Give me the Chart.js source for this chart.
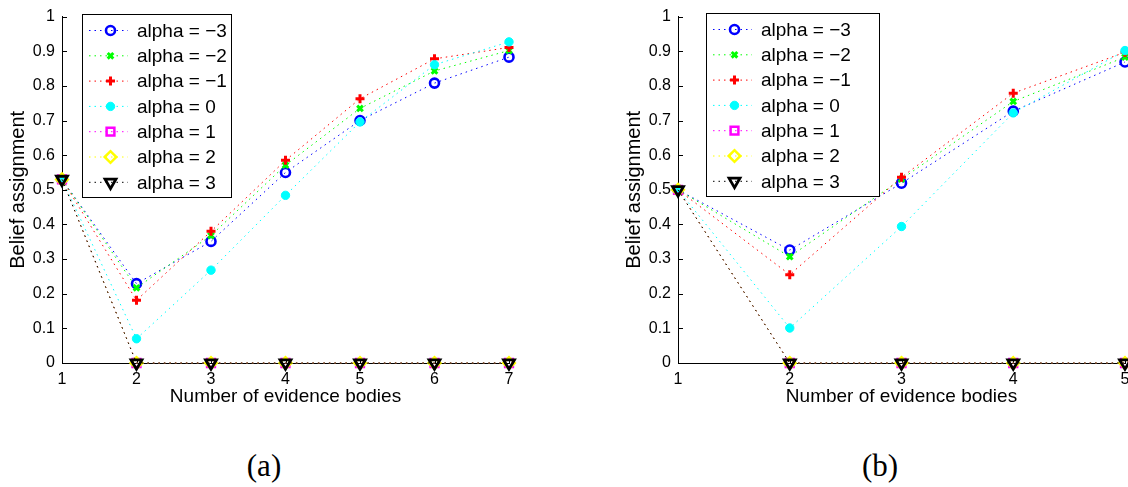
<!DOCTYPE html>
<html>
<head>
<meta charset="utf-8">
<script src="https://cdn.jsdelivr.net/npm/chart.js@4.4.1/dist/chart.umd.min.js"></script>
<style>
  html, body { margin: 0; padding: 0; background: #fff; overflow: hidden; width: 1128px; height: 487px; }
  .wrap { position: absolute; top: 0; width: 560px; height: 420px; }
  .cap { position: absolute; top: 450px; width: 100px; text-align: center; font-family: "Liberation Serif", serif; font-size: 31px; line-height: 31px; color: #000; }
</style>
</head>
<body>
<div class="wrap" style="left:0"><canvas id="chartA" width="560" height="420"></canvas></div>
<div class="wrap" style="left:616px"><canvas id="chartB" width="560" height="420"></canvas></div>
<div class="cap" style="left:214px">(a)</div>
<div class="cap" style="left:830px">(b)</div>

<script>
// values
const categoriesA = ["1", "2", "3", "4", "5", "6", "7"];
const categoriesB = ["1", "2", "3", "4", "5"];
const yTickValues = [0, 0.1, 0.2, 0.3, 0.4, 0.5, 0.6, 0.7, 0.8, 0.9, 1];
const yTickLabels = ["0", "0.1", "0.2", "0.3", "0.4", "0.5", "0.6", "0.7", "0.8", "0.9", "1"];

const seriesNames = ["alpha = \u22123", "alpha = \u22122", "alpha = \u22121", "alpha = 0", "alpha = 1", "alpha = 2", "alpha = 3"];

// panel (a)
const aM3 = [0.53, 0.229, 0.351, 0.550, 0.700, 0.808, 0.883];
const aM2 = [0.53, 0.217, 0.368, 0.571, 0.735, 0.843, 0.902];
const aM1 = [0.53, 0.181, 0.380, 0.585, 0.763, 0.878, 0.911];
const a0  = [0.53, 0.070, 0.268, 0.484, 0.696, 0.861, 0.927];
const aP1 = [0.53, 0, 0, 0, 0, 0, 0];
const aP2 = [0.53, 0, 0, 0, 0, 0, 0];
const aP3 = [0.53, 0, 0, 0, 0, 0, 0];

// panel (b)
const bM3 = [0.50, 0.326, 0.519, 0.727, 0.869];
const bM2 = [0.50, 0.307, 0.531, 0.755, 0.883];
const bM1 = [0.50, 0.255, 0.536, 0.779, 0.897];
const b0  = [0.50, 0.101, 0.394, 0.722, 0.902];
const bP1 = [0.50, 0, 0, 0, 0];
const bP2 = [0.50, 0, 0, 0, 0];
const bP3 = [0.50, 0, 0, 0, 0];

const FONT = '"Liberation Sans", Arial, Helvetica, sans-serif';

// marker look per series (matlab style o x + . s d v)
const styles = [
  { color: "#0000ff", pointStyle: "circle",   radius: 4.5, bw: 2.6, fill: "rgba(0,0,0,0)" },
  { color: "#00ff00", pointStyle: "crossRot", radius: 4,   bw: 3,   fill: "rgba(0,0,0,0)" },
  { color: "#ff0000", pointStyle: "cross",    radius: 4.5, bw: 3,   fill: "rgba(0,0,0,0)" },
  { color: "#00ffff", pointStyle: "circle",   radius: 4.2, bw: 1,   fill: "#00ffff" },
  { color: "#ff00ff", pointStyle: "rect",     radius: 5.5, bw: 2.5, fill: "rgba(0,0,0,0)" },
  { color: "#ffff00", pointStyle: "rectRot",  radius: 5.8, bw: 2.5, fill: "rgba(0,0,0,0)" },
  { color: "#000000", pointStyle: "triangle", radius: 6.3, bw: 2.8, fill: "rgba(0,0,0,0)", rotation: 180 }
];

function makeDatasets(list) {
  return list.map((vals, i) => {
    const s = styles[i];
    return {
      label: seriesNames[i],
      data: vals,
      borderColor: s.color,
      borderWidth: 1,
      borderDash: [1.5, 4],
      pointStyle: s.pointStyle,
      pointRadius: s.radius,
      pointBorderWidth: s.bw,
      pointBorderColor: s.color,
      pointBackgroundColor: s.fill,
      pointRotation: s.rotation || 0,
      pointHoverRadius: s.radius,
      fill: false,
      tension: 0,
      clip: false,
      order: 6 - i   // later series on top, like matlab
    };
  });
}

// ticks pointing into the plot
const innerTicks = {
  id: "innerTicks",
  beforeDatasetsDraw(chart) {
    const { ctx, chartArea, scales } = chart;
    ctx.save();
    ctx.strokeStyle = "#000";
    ctx.lineWidth = 1;
    ctx.beginPath();
    scales.y.ticks.forEach((t) => {
      const py = Math.round(scales.y.getPixelForValue(t.value)) + 0.5;
      ctx.moveTo(chartArea.left, py);
      ctx.lineTo(chartArea.left + 5, py);
    });
    scales.x.ticks.forEach((t, i) => {
      const px = Math.round(scales.x.getPixelForTick(i)) + 0.5;
      ctx.moveTo(px, chartArea.bottom);
      ctx.lineTo(px, chartArea.bottom - 5);
    });
    ctx.stroke();
    ctx.restore();
  }
};

// boxed legend with line sample + marker
const boxLegend = {
  id: "boxLegend",
  afterDraw(chart, args, opts) {
    const ctx = chart.ctx;
    ctx.save();
    ctx.fillStyle = "#fff";
    ctx.fillRect(opts.left, opts.top, opts.width, opts.height);
    ctx.strokeStyle = "#000";
    ctx.lineWidth = 1;
    ctx.strokeRect(opts.left + 0.5, opts.top + 0.5, opts.width, opts.height);
    chart.data.datasets.forEach((ds, i) => {
      const y = opts.top + 16.5 + i * 25.3;
      ctx.setLineDash(ds.borderDash);
      ctx.strokeStyle = ds.borderColor;
      ctx.lineWidth = 1;
      ctx.beginPath();
      ctx.moveTo(opts.left + 7, y);
      ctx.lineTo(opts.left + 46, y);
      ctx.stroke();
      ctx.setLineDash([]);
      ctx.strokeStyle = ds.pointBorderColor;
      ctx.fillStyle = ds.pointBackgroundColor;
      ctx.lineWidth = ds.pointBorderWidth;
      Chart.helpers.drawPoint(ctx, {
        pointStyle: ds.pointStyle,
        rotation: ds.pointRotation,
        radius: ds.pointRadius,
        borderWidth: ds.pointBorderWidth
      }, opts.left + 28.5, y);
      ctx.fillStyle = "#000";
      ctx.font = "19px " + FONT;
      ctx.textBaseline = "middle";
      ctx.textAlign = "left";
      ctx.fillText(ds.label, opts.left + 55, y + 1);
    });
    ctx.restore();
  }
};

function makeChart(id, cats, list, legendBox) {
  return new Chart(document.getElementById(id), {
    type: "line",
    data: { labels: cats, datasets: makeDatasets(list) },
    plugins: [innerTicks, boxLegend],
    options: {
      responsive: false,
      animation: false,
      devicePixelRatio: 1,
      layout: { padding: { left: 0, right: 51, top: 10, bottom: 0 } },
      plugins: {
        legend: { display: false },
        tooltip: { enabled: false },
        boxLegend: legendBox
      },
      scales: {
        x: {
          type: "category",
          offset: false,
          grid: { display: false, drawTicks: false },
          border: { display: true, color: "#000", width: 1 },
          ticks: { padding: 7, color: "#000", font: { size: 16, family: FONT }, maxRotation: 0, autoSkip: false },
          title: { display: true, text: "Number of evidence bodies", color: "#000", font: { size: 19, family: FONT }, padding: { top: 0, bottom: 12 } },
          afterFit(s) { s.height = 57; }
        },
        y: {
          min: 0,
          max: 1,
          grid: { display: false, drawTicks: false },
          border: { display: true, color: "#000", width: 1 },
          afterBuildTicks(s) { s.ticks = yTickValues.map((v) => ({ value: v })); },
          ticks: { padding: 7, color: "#000", font: { size: 16, family: FONT }, callback: (v, i) => yTickLabels[i] },
          title: { display: true, text: "Belief assignment", color: "#000", font: { size: 20, family: FONT }, padding: { top: 6, bottom: 0 } },
          afterFit(s) { s.width = 62; }
        }
      }
    }
  });
}

makeChart("chartA", categoriesA, [aM3, aM2, aM1, a0, aP1, aP2, aP3], { left: 82, top: 14, width: 149, height: 183 });
makeChart("chartB", categoriesB, [bM3, bM2, bM1, b0, bP1, bP2, bP3], { left: 90, top: 13, width: 173, height: 183 });
</script>
</body>
</html>
